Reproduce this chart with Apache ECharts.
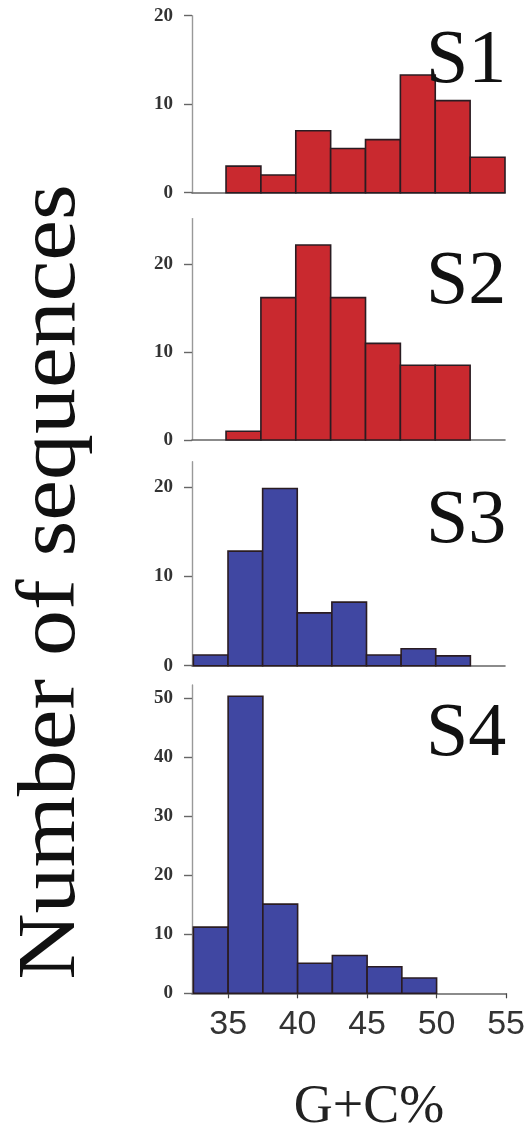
<!DOCTYPE html>
<html>
<head>
<meta charset="utf-8">
<script src="https://cdn.jsdelivr.net/npm/echarts@6/dist/echarts.min.js"></script>
<style>
  html, body { margin: 0; padding: 0; background: #fff; }
  #chart { width: 528px; height: 1132px; }
</style>
</head>
<body>
<div id="chart"></div>
<script>
// G+C% histograms, bins of 2.5
const binWidth = 2.5
const panelNames = ['S1', 'S2', 'S3', 'S4']
const binStarts = [35, 35, 32.5, 32.5]
const s1Counts = [3, 2, 7, 5, 6, 13.3, 10.4, 4]
const s2Counts = [1, 16.2, 22.2, 16.2, 11, 8.5, 8.5]
const s3Counts = [1.2, 12.8, 19.8, 5.9, 7.1, 1.2, 1.9, 1.1]
const s4Counts = [11.2, 50.3, 15.1, 5.1, 6.4, 4.5, 2.6]
const xTicks = [35, 40, 45, 50, 55]
const yTicks = [[0, 10, 20], [0, 10, 20], [0, 10, 20], [0, 10, 20, 30, 40, 50]]
const xTitle = 'G+C%'
const yTitle = 'Number of sequences'

const allCounts = [s1Counts, s2Counts, s3Counts, s4Counts]
const fills = ['#c9292f', '#c9292f', '#4047a2', '#4047a2']

// layout of each panel (pixels)
const panels = [
  { top: 15.7, height: 177, yMax: 20, xMin: 32.56, right: 23, labelY: 82 },
  { top: 218.6, height: 221.4, yMax: 25.2, xMin: 32.56, right: 23, labelY: 303 },
  { top: 461.7, height: 204, yMax: 22.8, xMin: 32.4, right: 23, labelY: 542 },
  { top: 685, height: 308.3, yMax: 52.2, xMin: 32.4, right: 21, labelY: 755 }
]

const chart = echarts.init(document.getElementById('chart'))

function renderBin(params, api) {
  const p0 = api.coord([api.value(0), 0])
  const p1 = api.coord([api.value(1), api.value(2)])
  return {
    type: 'rect',
    shape: { x: p0[0], y: p1[1], width: p1[0] - p0[0], height: p0[1] - p1[1] },
    style: { fill: fills[params.seriesIndex], stroke: '#2a1c22', lineWidth: 1.6 }
  }
}

const grid = []
const xAxis = []
const yAxis = []
const series = []
const graphic = []

panels.forEach((p, i) => {
  const last = i === panels.length - 1
  grid.push({ left: 192, right: p.right, top: p.top, height: p.height })
  xAxis.push({
    type: 'value',
    gridIndex: i,
    min: p.xMin,
    max: 55,
    splitLine: { show: false },
    axisLine: { show: true, onZero: true, lineStyle: { color: '#666', width: 1.6 } },
    axisTick: { show: last, length: 5, customValues: xTicks, lineStyle: { color: '#444', width: 1.2 } },
    axisLabel: {
      show: last,
      customValues: xTicks,
      margin: 14,
      fontFamily: 'Liberation Sans',
      fontSize: 34,
      color: '#333'
    }
  })
  yAxis.push({
    type: 'value',
    gridIndex: i,
    min: 0,
    max: p.yMax,
    splitLine: { show: false },
    axisLine: { show: true, lineStyle: { color: '#999', width: 1.4 } },
    axisTick: { show: true, length: 8, customValues: yTicks[i], lineStyle: { color: '#666', width: 1.4 } },
    axisLabel: {
      customValues: yTicks[i],
      margin: 19,
      fontFamily: 'Liberation Serif',
      fontWeight: 'bold',
      fontSize: 19,
      color: '#333'
    }
  })
  const start = binStarts[i]
  series.push({
    type: 'custom',
    xAxisIndex: i,
    yAxisIndex: i,
    renderItem: renderBin,
    encode: { x: [0, 1], y: 2 },
    data: allCounts[i].map((c, k) => [start + k * binWidth, start + (k + 1) * binWidth, c]),
    z: 1
  })
  graphic.push({
    type: 'text',
    left: 426,
    top: p.labelY - 58,
    z: 10,
    style: { text: panelNames[i], fontFamily: 'Liberation Serif', fontSize: 76, fill: '#111' }
  })
})

graphic.push({
  type: 'text',
  x: 369,
  y: 1108,
  style: { text: xTitle, fontFamily: 'Liberation Serif', fontSize: 54, fill: '#222', align: 'center', verticalAlign: 'middle' }
})
// the axis title is a little stretched along its length in the original
graphic.push({
  type: 'text',
  x: 52,
  y: 582,
  rotation: Math.PI / 2,
  scaleX: 1.12,
  style: { text: yTitle, fontFamily: 'Liberation Serif', fontSize: 82, fill: '#111', align: 'center', verticalAlign: 'middle' }
})

chart.setOption({
  animation: false,
  grid: grid,
  xAxis: xAxis,
  yAxis: yAxis,
  series: series,
  graphic: graphic
})
</script>
</body>
</html>
